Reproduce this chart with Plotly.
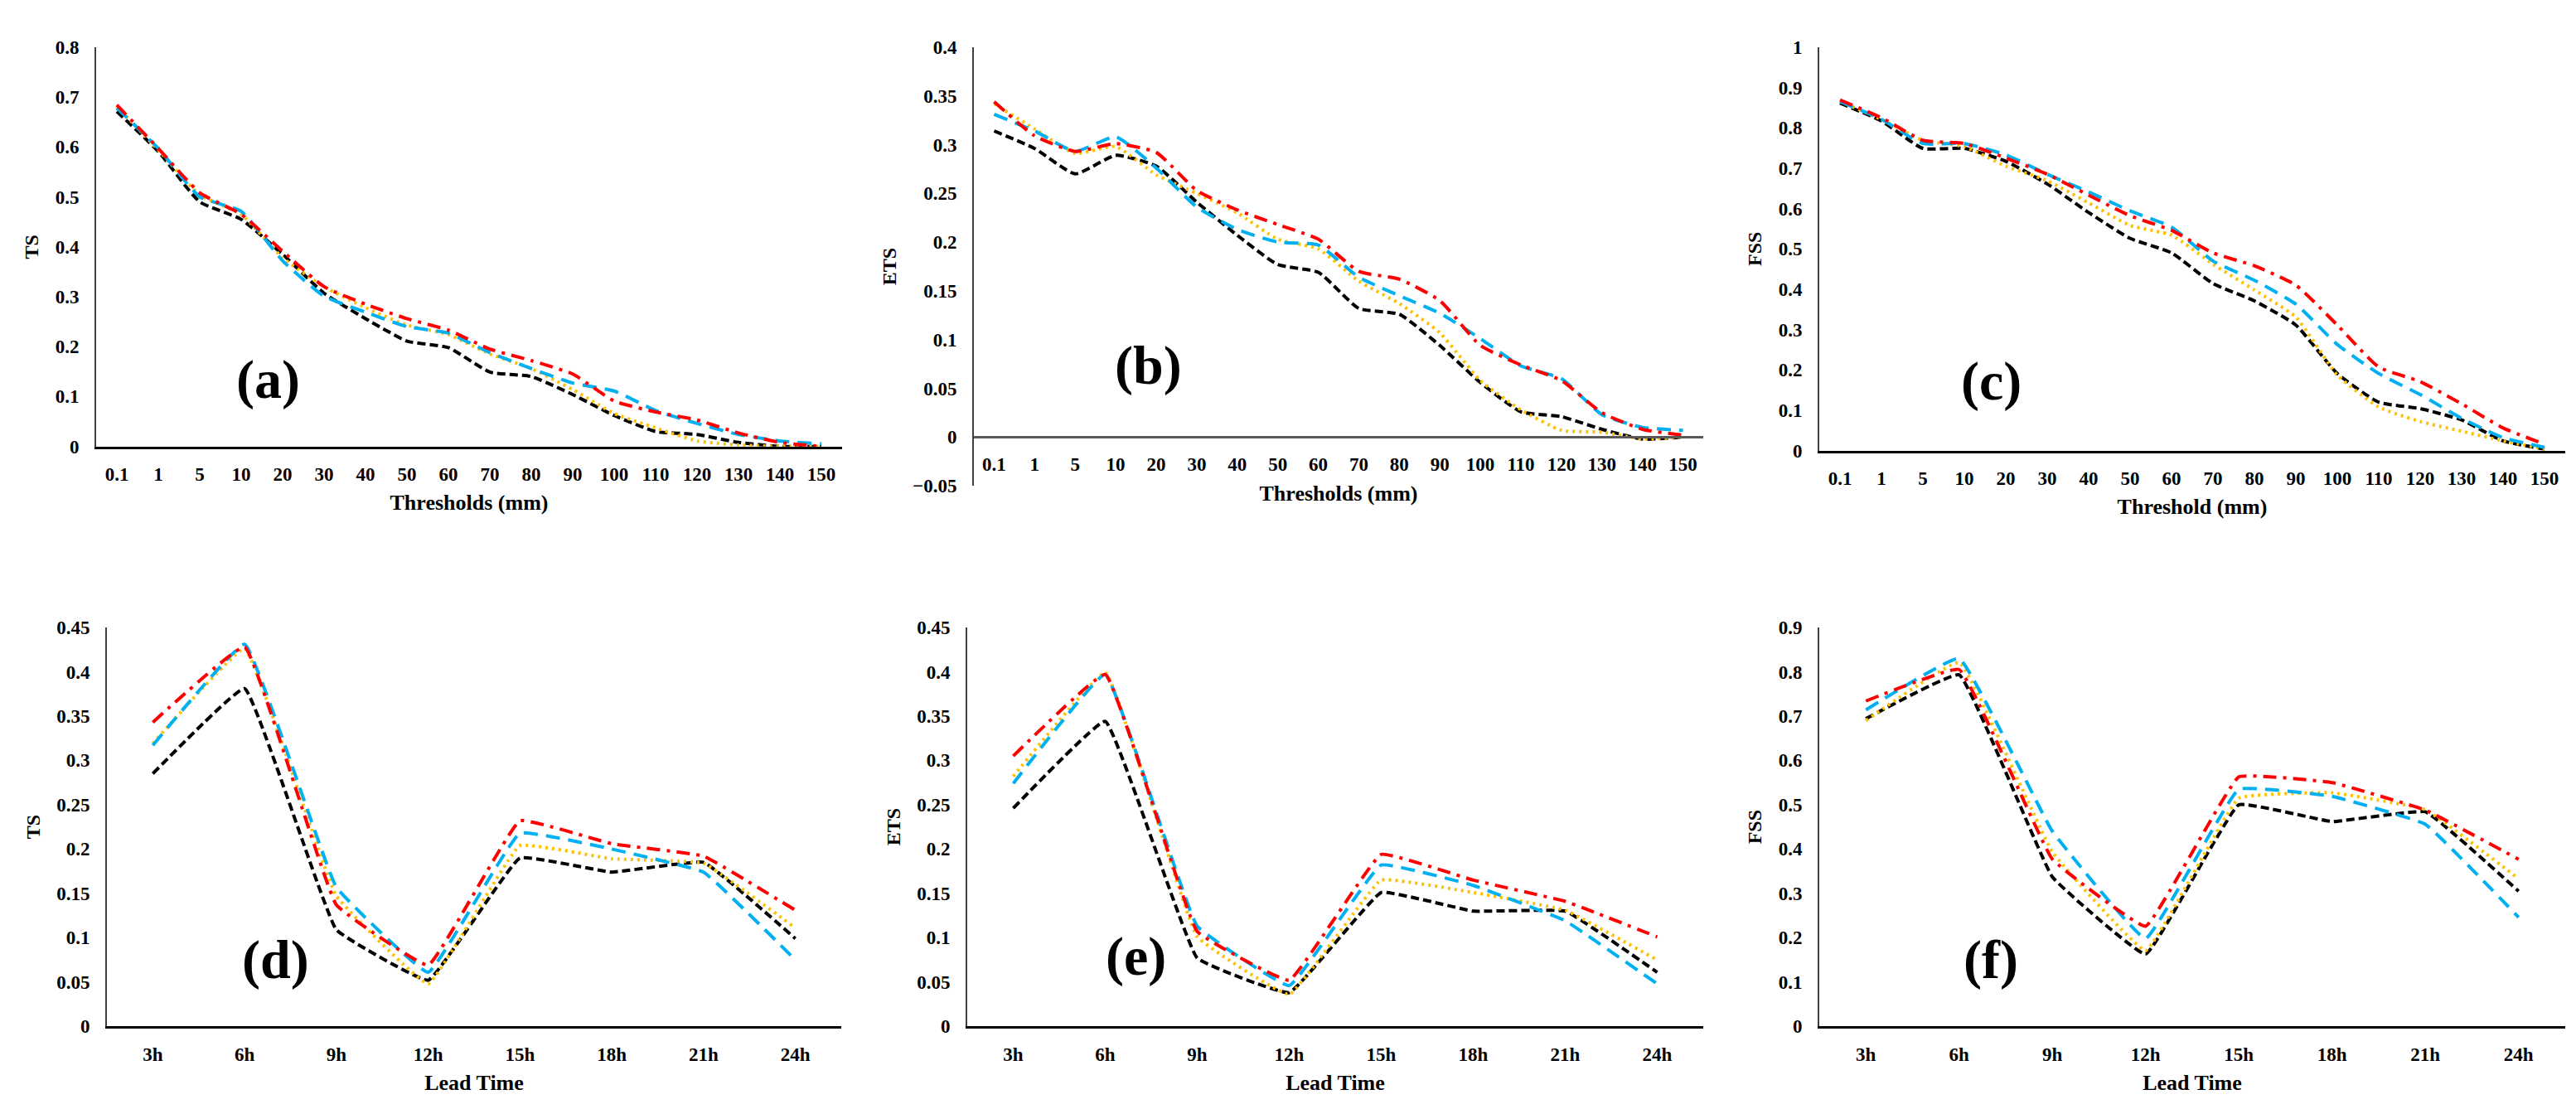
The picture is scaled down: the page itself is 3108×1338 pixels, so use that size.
import plotly.graph_objects as go

# ---- categories ----
thresholds = ["0.1", "1", "5", "10", "20", "30", "40", "50", "60", "70",
              "80", "90", "100", "110", "120", "130", "140", "150"]
lead_times = ["3h", "6h", "9h", "12h", "15h", "18h", "21h", "24h"]

# ---- (a) TS vs threshold ----
ts_thr_black = [0.671, 0.591, 0.490, 0.455, 0.385, 0.307, 0.256, 0.211, 0.198,
                0.149, 0.140, 0.104, 0.062, 0.030, 0.024, 0.008, 0.0, 0.0]
ts_thr_orange = [0.681, 0.594, 0.504, 0.465, 0.378, 0.320, 0.278, 0.243, 0.224,
                 0.185, 0.156, 0.114, 0.066, 0.037, 0.011, 0.003, 0.0, 0.0]
ts_thr_blue = [0.678, 0.597, 0.500, 0.471, 0.372, 0.301, 0.269, 0.240, 0.227,
               0.188, 0.156, 0.127, 0.111, 0.072, 0.046, 0.024, 0.011, 0.005]
ts_thr_red = [0.684, 0.597, 0.508, 0.465, 0.391, 0.320, 0.285, 0.256, 0.233,
              0.195, 0.172, 0.145, 0.091, 0.069, 0.053, 0.027, 0.008, 0.0]

# ---- (b) ETS vs threshold ----
ets_thr_black = [0.314, 0.296, 0.270, 0.289, 0.278, 0.241, 0.207, 0.177, 0.169,
                 0.132, 0.126, 0.094, 0.056, 0.026, 0.021, 0.008, -0.002, 0.0]
ets_thr_orange = [0.342, 0.316, 0.291, 0.298, 0.269, 0.250, 0.230, 0.203, 0.193,
                  0.160, 0.137, 0.107, 0.058, 0.028, 0.007, 0.005, -0.002, 0.0]
ets_thr_blue = [0.331, 0.314, 0.293, 0.308, 0.276, 0.236, 0.213, 0.200, 0.197,
                0.164, 0.145, 0.127, 0.101, 0.073, 0.060, 0.023, 0.010, 0.007]
ets_thr_red = [0.344, 0.309, 0.293, 0.301, 0.292, 0.253, 0.233, 0.218, 0.203,
               0.170, 0.162, 0.140, 0.094, 0.074, 0.058, 0.025, 0.008, 0.002]

# ---- (c) FSS vs threshold ----
fss_thr_black = [0.861, 0.817, 0.749, 0.749, 0.717, 0.661, 0.590, 0.526, 0.490,
                 0.414, 0.371, 0.311, 0.191, 0.120, 0.104, 0.076, 0.024, 0.004]
fss_thr_orange = [0.865, 0.821, 0.769, 0.753, 0.705, 0.669, 0.614, 0.558, 0.534,
                  0.462, 0.398, 0.331, 0.187, 0.108, 0.072, 0.048, 0.024, 0.004]
fss_thr_blue = [0.865, 0.821, 0.761, 0.761, 0.733, 0.685, 0.641, 0.594, 0.554,
                0.470, 0.422, 0.363, 0.263, 0.191, 0.139, 0.080, 0.032, 0.008]
fss_thr_red = [0.869, 0.825, 0.769, 0.761, 0.725, 0.685, 0.633, 0.582, 0.546,
               0.490, 0.458, 0.410, 0.311, 0.207, 0.171, 0.116, 0.056, 0.016]

# ---- (d) TS vs lead time ----
ts_lead_black = [0.285, 0.381, 0.109, 0.052, 0.190, 0.174, 0.185, 0.099]
ts_lead_orange = [0.319, 0.426, 0.147, 0.048, 0.204, 0.189, 0.184, 0.111]
ts_lead_blue = [0.317, 0.431, 0.157, 0.061, 0.218, 0.200, 0.174, 0.075]
ts_lead_red = [0.343, 0.428, 0.137, 0.069, 0.232, 0.206, 0.192, 0.131]

# ---- (e) ETS vs lead time ----
ets_lead_black = [0.246, 0.344, 0.077, 0.038, 0.151, 0.130, 0.130, 0.061]
ets_lead_orange = [0.282, 0.399, 0.101, 0.036, 0.165, 0.151, 0.131, 0.075]
ets_lead_blue = [0.274, 0.397, 0.113, 0.046, 0.182, 0.159, 0.119, 0.048]
ets_lead_red = [0.305, 0.397, 0.107, 0.052, 0.194, 0.165, 0.141, 0.101]

# ---- (f) FSS vs lead time ----
fss_lead_black = [0.694, 0.793, 0.337, 0.163, 0.500, 0.462, 0.484, 0.305]
fss_lead_orange = [0.690, 0.821, 0.393, 0.171, 0.515, 0.527, 0.489, 0.333]
fss_lead_blue = [0.714, 0.830, 0.440, 0.198, 0.535, 0.519, 0.456, 0.246]
fss_lead_red = [0.734, 0.805, 0.377, 0.226, 0.563, 0.550, 0.488, 0.377]

W, H = 3108, 1338
FONT = "Liberation Serif"

STYLES = {
    "black": dict(color="#000000", width=4, dash="10px,5px"),
    "orange": dict(color="#FFC000", width=4, dash="3px,5px"),
    "blue": dict(color="#00B0F0", width=4, dash="17px,10px"),
    "red": dict(color="#FF0000", width=4, dash="16px,8px,4px,8px"),
}

# panel: (x, ydata, y range, dtick, y title, x title, label, pixel box l,r,t,b, smoothing)
panels = [
    (thresholds, dict(black=ts_thr_black, orange=ts_thr_orange, blue=ts_thr_blue, red=ts_thr_red),
     [0, 0.8], 0.1, "TS", "Thresholds (mm)", "(a)", (108, 1008, 37.5, 528.5), 0.5),
    (thresholds, dict(black=ets_thr_black, orange=ets_thr_orange, blue=ets_thr_blue, red=ets_thr_red),
     [-0.05, 0.4], 0.05, "ETS", "Thresholds (mm)", "(b)", (1167, 2047, 37.5, 577), 0.5),
    (thresholds, dict(black=fss_thr_black, orange=fss_thr_orange, blue=fss_thr_blue, red=fss_thr_red),
     [0, 1], 0.1, "FSS", "Threshold (mm)", "(c)", (2187, 3087, 37.5, 533.6), 0.5),
    (lead_times, dict(black=ts_lead_black, orange=ts_lead_orange, blue=ts_lead_blue, red=ts_lead_red),
     [0, 0.45], 0.05, "TS", "Lead Time", "(d)", (121, 1007, 751, 1241.5), 0.25),
    (lead_times, dict(black=ets_lead_black, orange=ets_lead_orange, blue=ets_lead_blue, red=ets_lead_red),
     [0, 0.45], 0.05, "ETS", "Lead Time", "(e)", (1159, 2047, 751, 1241.5), 0.25),
    (lead_times, dict(black=fss_lead_black, orange=fss_lead_orange, blue=fss_lead_blue, red=fss_lead_red),
     [0, 0.9], 0.1, "FSS", "Lead Time", "(f)", (2187, 3087, 751, 1241.5), 0.25),
]
label_pos = [(0.23, 0.168), (0.239, 0.275), (0.231, 0.171),
             (0.23, 0.166), (0.229, 0.175), (0.23, 0.166)]

fig = go.Figure()
layout = {}
annotations = []
for i, (cats, series, yr, dt, ytitle, xtitle, label, box, smooth) in enumerate(panels, start=1):
    sfx = "" if i == 1 else str(i)
    l, r, t, b = box
    xdom = [l / W, r / W]
    ydom = [1 - b / H, 1 - t / H]
    for key in ["black", "orange", "blue", "red"]:
        fig.add_trace(go.Scatter(
            x=cats, y=series[key], mode="lines", name=key, showlegend=False,
            line=dict(shape="spline", smoothing=smooth, **STYLES[key]),
            xaxis="x" + sfx, yaxis="y" + sfx))

    tickfont = dict(family=FONT, size=23, color="#000000", weight="bold")
    xa = dict(domain=xdom, anchor="y" + sfx, type="category", showgrid=False,
              range=[-0.5, len(cats) - 0.5],
              showline=True, linecolor="#000000", linewidth=3, ticks="",
              tickfont=tickfont, ticklabelstandoff=11,
              title=dict(text="<b>%s</b>" % xtitle, standoff=13,
                         font=dict(family=FONT, size=26, color="#000000")))
    if yr[0] < 0:
        zero_frac = -yr[0] / (yr[1] - yr[0])
        xa.update(anchor="free", position=ydom[0] + zero_frac * (ydom[1] - ydom[0]),
                  linecolor="#595959")
    ya = dict(domain=ydom, anchor="x" + sfx, range=yr, dtick=dt, showgrid=False,
              zeroline=False, showline=True, linecolor="#404040", linewidth=2,
              ticks="", tickfont=tickfont, ticklabelstandoff=14,
              title=dict(text="<b>%s</b>" % ytitle, standoff=13,
                         font=dict(family=FONT, size=24, color="#000000")))
    layout["xaxis" + sfx] = xa
    layout["yaxis" + sfx] = ya
    lx, ly = label_pos[i - 1]
    annotations.append(dict(text="<b>%s</b>" % label, xref="x%s domain" % sfx,
                            yref="y%s domain" % sfx, x=lx, y=ly, showarrow=False,
                            xanchor="center", yanchor="middle",
                            font=dict(family=FONT, size=66, color="#000000")))

fig.update_layout(**layout)
fig.update_layout(width=W, height=H, margin=dict(l=0, r=0, t=0, b=0),
                  paper_bgcolor="white", plot_bgcolor="white",
                  annotations=annotations, font=dict(family=FONT, color="#000000"))
fig.write_html("out.html")
